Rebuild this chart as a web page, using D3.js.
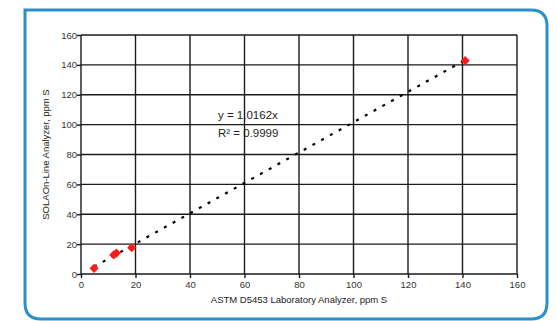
<!DOCTYPE html>
<html>
<head>
<meta charset="utf-8">
<script src="https://cdn.jsdelivr.net/npm/d3@7"></script>
<style>
  body { margin: 0; background: #fff; }
  svg { display: block; font-family: 'Liberation Sans', Arial, sans-serif; }
</style>
</head>
<body>
<div id="display"></div>
<script>
const w = 557;
const h = 321;

// data
const labX = [4.8, 12, 13, 18.6, 141];
const onLineY = [3.8, 12.8, 14, 17.6, 142.8];
const slope = 1.0162;
const fitText = ['y = 1.0162x', 'R² = 0.9999'];
const ticks = [0, 20, 40, 60, 80, 100, 120, 140, 160];

const margin = { left: 81, right: 40, top: 35, bottom: 47 };

const viz = d3.select('#display').append('svg')
    .attr('width', w)
    .attr('height', h);

// blue frame, square top-left corner, others rounded
const r = 16;
const fx0 = 25, fy0 = 10, fx1 = 547, fy1 = 319;
viz.append('path')
    .attr('d', `M${fx0},${fy0} L${fx1 - r},${fy0} Q${fx1},${fy0} ${fx1},${fy0 + r} L${fx1},${fy1 - r} Q${fx1},${fy1} ${fx1 - r},${fy1} L${fx0 + r},${fy1} Q${fx0},${fy1} ${fx0},${fy1 - r} Z`)
    .attr('fill', 'none')
    .attr('stroke', '#2b8fcc')
    .attr('stroke-width', 3);

const xScale = d3.scaleLinear().domain([0, 160]).range([margin.left, w - margin.right]);
const yScale = d3.scaleLinear().domain([0, 160]).range([h - margin.bottom, margin.top]);

// grid
const grid = viz.append('g').attr('class', 'grid');
grid.selectAll('.vx').data(ticks).enter().append('line')
    .attr('x1', (d) => xScale(d)).attr('x2', (d) => xScale(d))
    .attr('y1', yScale(0)).attr('y2', yScale(160))
    .attr('stroke', '#1a1a1a').attr('stroke-width', 1.4);
grid.selectAll('.hy').data(ticks).enter().append('line')
    .attr('x1', xScale(0)).attr('x2', xScale(160))
    .attr('y1', (d) => yScale(d)).attr('y2', (d) => yScale(d))
    .attr('stroke', '#1a1a1a').attr('stroke-width', 1.4);

const xAxisGroup = viz.append('g')
    .attr('transform', `translate(0,${yScale(0)})`)
    .call(d3.axisBottom(xScale).tickValues(ticks).tickSize(4).tickSizeOuter(0));
const yAxisGroup = viz.append('g')
    .attr('transform', `translate(${xScale(0)},0)`)
    .call(d3.axisLeft(yScale).tickValues(ticks).tickSize(4).tickSizeOuter(0));

[xAxisGroup, yAxisGroup].forEach((g) => {
    g.select('.domain').remove();
    g.selectAll('line').attr('stroke', '#1a1a1a').attr('stroke-width', 1.4);
    g.selectAll('text').attr('fill', '#333').style('font-size', '9.5px')
        .style('font-family', `'Liberation Sans', Arial, sans-serif`);
});
yAxisGroup.selectAll('text').attr('x', -4);

// trend line
const lineMaker = d3.line()
    .x((d) => xScale(d))
    .y((d) => yScale(d * slope));
viz.append('path')
    .datum([d3.min(labX), d3.max(labX)])
    .attr('d', lineMaker)
    .attr('stroke', '#000')
    .attr('stroke-width', 2.2)
    .attr('stroke-dasharray', '3 7')
    .attr('fill', 'none');

// points, square turned 45deg
const pts = labX.map((x, i) => ({ x, y: onLineY[i] }));
viz.selectAll('.pt').data(pts).enter().append('path')
    .attr('transform', (d) => `translate(${xScale(d.x)},${yScale(d.y)}) rotate(45)`)
    .attr('d', d3.symbol().type(d3.symbolSquare).size(42))
    .attr('fill', '#ff1a1a');

// fit text
viz.selectAll('.fit').data(fitText).enter().append('text')
    .attr('x', 218)
    .attr('y', (d, i) => 119 + i * 18)
    .text((d) => d)
    .attr('fill', '#222')
    .style('font-size', '11.5px');

// axis titles
viz.append('text')
    .attr('x', xScale(80))
    .attr('y', 303)
    .attr('text-anchor', 'middle')
    .attr('fill', '#222')
    .style('font-size', '9.5px')
    .text('ASTM D5453 Laboratory Analyzer, ppm S');
viz.append('text')
    .attr('transform', `translate(49,${yScale(80)}) rotate(-90)`)
    .attr('text-anchor', 'middle')
    .attr('fill', '#222')
    .style('font-size', '9.5px')
    .text('SOLAOn-Line Analyzer, ppm S');
</script>
</body>
</html>
